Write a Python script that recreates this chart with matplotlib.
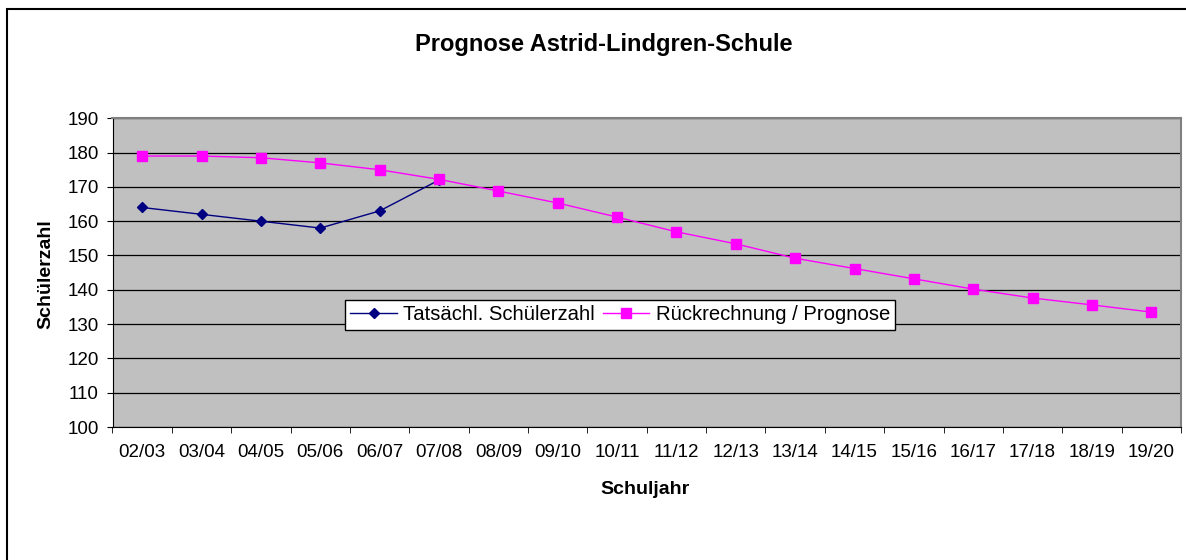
import matplotlib
matplotlib.use('Agg')
from matplotlib import pyplot as plt
from matplotlib.patches import Rectangle

plt.rcParams['font.family'] = ['Liberation Sans', 'DejaVu Sans']

jahre = ['02/03', '03/04', '04/05', '05/06', '06/07', '07/08', '08/09', '09/10', '10/11',
         '11/12', '12/13', '13/14', '14/15', '15/16', '16/17', '17/18', '18/19', '19/20']
tatsaechlich = [164, 162, 160, 158, 163, 172]
prognose = [179, 179, 178.5, 177, 175, 172.2, 168.8, 165.3, 161.2,
            156.9, 153.4, 149.2, 146.2, 143.2, 140.2, 137.6, 135.6, 133.5]

W, H = 1186, 560
fig = plt.figure(figsize=(W / 100, H / 100), dpi=100)
# outer chart border (right and bottom edges are cut off in the original)
fig.patches.append(Rectangle((7 / W, -0.1), 1.2, 1 - 9 / H + 0.1, transform=fig.transFigure,
                             fill=False, edgecolor='black', linewidth=1.5))

left, right, top, bottom = 112.5, 1181, 118.3, 427
ax = fig.add_axes([left / W, 1 - bottom / H, (right - left) / W, (bottom - top) / H])
ax.set_facecolor('#C0C0C0')

x = list(range(len(jahre)))
ax.plot(x[:len(tatsaechlich)], tatsaechlich, color='#000080', marker='D', markersize=5.5,
        linewidth=1, label='Tatsächl. Schülerzahl', zorder=3)
ax.plot(x, prognose, color='#FF00FF', marker='s', markersize=6.5,
        linewidth=1, label='Rückrechnung / Prognose', zorder=3)

ax.set_xlim(-0.5, len(jahre) - 0.5)
ax.set_ylim(100, 190)
ax.set_yticks(range(100, 191, 10))
ax.set_xticks(x)
ax.set_xticklabels(jahre, fontsize=13.5)
ax.set_xticks([i - 0.5 for i in range(len(jahre) + 1)], minor=True)
ax.tick_params(axis='x', which='major', length=0, pad=12.5)
ax.tick_params(axis='x', which='minor', length=4.3, color='black')
ax.tick_params(axis='y', labelsize=13.5, length=4.3, pad=5.5)
ax.grid(axis='y', color='black', linewidth=0.9)
ax.set_axisbelow(True)
for s in ['top', 'right']:
    ax.spines[s].set_color('#808080')
    ax.spines[s].set_linewidth(1.5)
for s in ['left', 'bottom']:
    ax.spines[s].set_color('black')

fig.text(604 / W, 1 - 44 / H, 'Prognose Astrid-Lindgren-Schule', fontsize=17,
         fontweight='bold', ha='center', va='center')
fig.text(645 / W, 1 - 489 / H, 'Schuljahr', fontsize=14, fontweight='bold',
         ha='center', va='center')
fig.text(46 / W, 1 - 274 / H, 'Schülerzahl', fontsize=14, fontweight='bold',
         ha='center', va='center', rotation=90)

leg = ax.legend(loc='center', bbox_to_anchor=(0.475, 0.363), ncol=2, fontsize=14.6,
                frameon=True, fancybox=False, edgecolor='black', framealpha=1,
                handlelength=2.3, columnspacing=0.4, handletextpad=0.3,
                borderpad=0.25, borderaxespad=0)
leg.get_frame().set_linewidth(1)

plt.savefig('out.png', dpi=100)
